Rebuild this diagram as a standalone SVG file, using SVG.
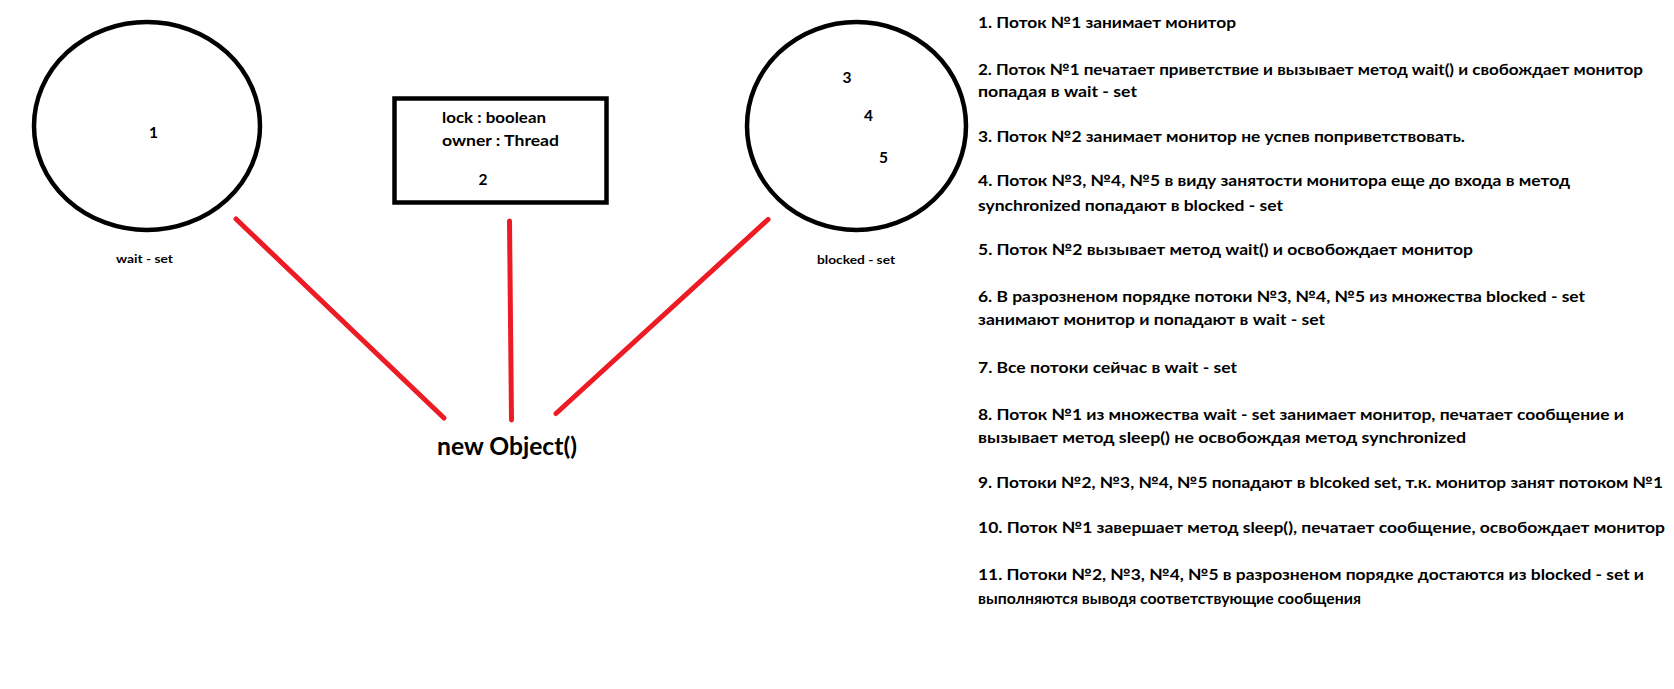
<svg xmlns="http://www.w3.org/2000/svg" width="1674" height="689" viewBox="0 0 1674 689">
<style>
.shape{fill:none;stroke:#000;stroke-width:4.5}
.edge{fill:none;stroke:#ED1C24;stroke-width:5;stroke-linecap:round}
text{font-family:Lato,"Open Sans","Liberation Sans",sans-serif;font-weight:bold;fill:#000}
.t{font-size:15.5px}
.s{font-size:12px}
.big{font-size:24px}
</style>
<rect width="1674" height="689" fill="#fff"/>
<g id="wait-set">
<ellipse class="shape" cx="147" cy="126" rx="113" ry="104"/>
<text class="t" x="153.5" y="138" text-anchor="middle">1</text>
<text class="s" x="144.5" y="263" text-anchor="middle" textLength="57" lengthAdjust="spacingAndGlyphs">wait - set</text>
</g>
<g id="monitor">
<rect class="shape" x="394.5" y="98.5" width="212" height="104"/>
<text class="t" x="442" y="123" textLength="104" lengthAdjust="spacingAndGlyphs">lock : boolean</text>
<text class="t" x="442" y="146" textLength="117" lengthAdjust="spacingAndGlyphs">owner : Thread</text>
<text class="t" x="483" y="185" text-anchor="middle">2</text>
</g>
<g id="blocked-set">
<ellipse class="shape" cx="856.5" cy="126" rx="109.5" ry="104"/>
<text class="t" x="847" y="83" text-anchor="middle">3</text>
<text class="t" x="868.5" y="121" text-anchor="middle">4</text>
<text class="t" x="883.5" y="163" text-anchor="middle">5</text>
<text class="s" x="856" y="264" text-anchor="middle" textLength="78" lengthAdjust="spacingAndGlyphs">blocked - set</text>
</g>
<g id="object">
<text class="big" x="437" y="455" textLength="140" lengthAdjust="spacingAndGlyphs">new Object()</text>
</g>
<g id="connectors">
<line class="edge" x1="236" y1="219" x2="444" y2="418"/>
<line class="edge" x1="509.5" y1="221" x2="511.5" y2="420"/>
<line class="edge" x1="768" y1="219.5" x2="556" y2="413.5"/>
</g>
<g id="steps" class="t">
<text x="978" y="28" textLength="258" lengthAdjust="spacingAndGlyphs">1. Поток №1 занимает монитор</text>
<text x="978" y="75" textLength="665" lengthAdjust="spacingAndGlyphs">2. Поток №1 печатает приветствие и вызывает метод wait() и свобождает монитор</text>
<text x="978" y="97" textLength="159" lengthAdjust="spacingAndGlyphs">попадая в wait - set</text>
<text x="978" y="142" textLength="487" lengthAdjust="spacingAndGlyphs">3. Поток №2 занимает монитор не успев поприветствовать.</text>
<text x="978" y="186" textLength="592" lengthAdjust="spacingAndGlyphs">4. Поток №3, №4, №5 в виду занятости монитора еще до входа в метод</text>
<text x="978" y="211" textLength="305" lengthAdjust="spacingAndGlyphs">synchronized попадают в blocked - set</text>
<text x="978" y="255" textLength="495" lengthAdjust="spacingAndGlyphs">5. Поток №2 вызывает метод wait() и освобождает монитор</text>
<text x="978" y="302" textLength="607" lengthAdjust="spacingAndGlyphs">6. В разрозненом порядке потоки №3, №4, №5 из множества blocked - set</text>
<text x="978" y="325" textLength="347" lengthAdjust="spacingAndGlyphs">занимают монитор и попадают в wait - set</text>
<text x="978" y="373" textLength="259" lengthAdjust="spacingAndGlyphs">7. Все потоки сейчас в wait - set</text>
<text x="978" y="420" textLength="646" lengthAdjust="spacingAndGlyphs">8. Поток №1 из множества wait - set занимает монитор, печатает сообщение и</text>
<text x="978" y="443" textLength="488" lengthAdjust="spacingAndGlyphs">вызывает метод sleep() не освобождая метод synchronized</text>
<text x="978" y="488" textLength="685" lengthAdjust="spacingAndGlyphs">9. Потоки №2, №3, №4, №5 попадают в blcoked set, т.к. монитор занят потоком №1</text>
<text x="978" y="533" textLength="687" lengthAdjust="spacingAndGlyphs">10. Поток №1 завершает метод sleep(), печатает сообщение, освобождает монитор</text>
<text x="978" y="580" textLength="666" lengthAdjust="spacingAndGlyphs">11. Потоки №2, №3, №4, №5 в разрозненом порядке достаются из blocked - set и</text>
<text x="978" y="604" textLength="383" lengthAdjust="spacingAndGlyphs">выполняются выводя соответствующие сообщения</text>
</g>
</svg>
